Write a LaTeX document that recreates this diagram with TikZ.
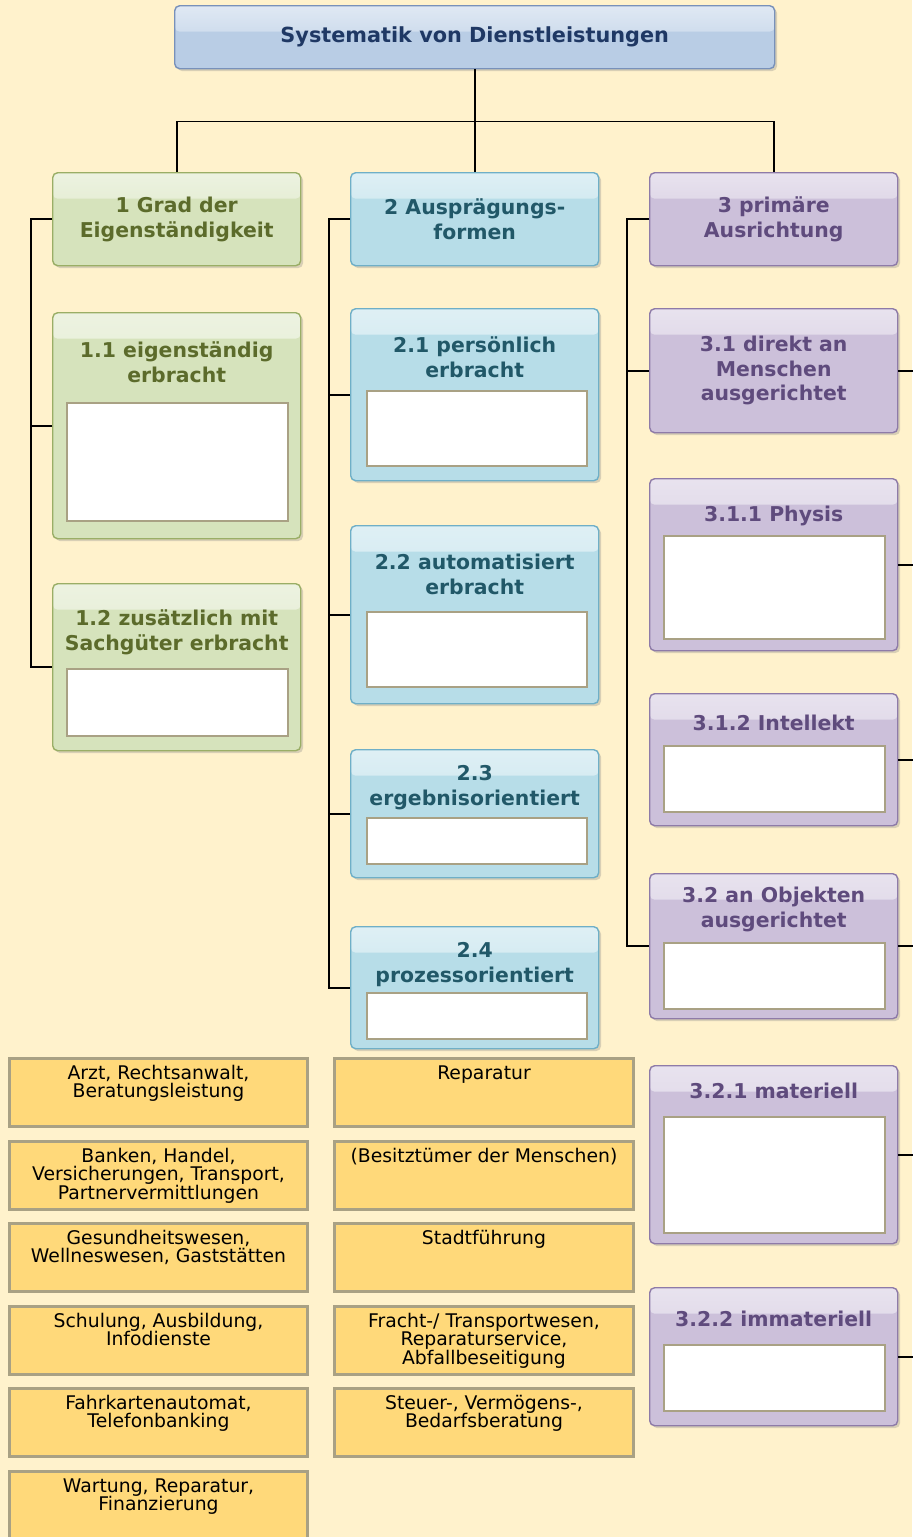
\documentclass[tikz,border=0pt]{standalone}
\usepackage{fontspec}
\setmainfont{DejaVu Sans}
\usetikzlibrary{positioning,shadows}
\definecolor{bgcol}{HTML}{FFF2CC}
\definecolor{rootfill}{HTML}{B9CDE5}\definecolor{rootline}{HTML}{7891BA}\definecolor{roottxt}{HTML}{1F3864}
\definecolor{grnfill}{HTML}{D6E3BC}\definecolor{grnline}{HTML}{9AAE66}\definecolor{grntxt}{HTML}{5C6B2B}
\definecolor{blufill}{HTML}{B7DDE8}\definecolor{bluline}{HTML}{6FAFC7}\definecolor{blutxt}{HTML}{215868}
\definecolor{purfill}{HTML}{CCC0DA}\definecolor{purline}{HTML}{8E7BA8}\definecolor{purtxt}{HTML}{5F4B7D}
\definecolor{yelfill}{HTML}{FFD97A}\definecolor{yelline}{HTML}{A9A184}
\begin{document}
\begin{tikzpicture}[x=0.5pt,y=-0.5pt,
  card/.style={rounded corners=2.5pt, line width=0.7pt, anchor=north west,
    minimum width=124pt, inner sep=0pt, align=center,
    font=\bfseries\fontsize{10.2}{12.3}\selectfont,
    drop shadow={shadow xshift=1.2pt, shadow yshift=-1.2pt, opacity=0.3},
    path picture={\shade[top color=white!55!#1, bottom color=#1]
      (path picture bounding box.north west) rectangle ([yshift=-13pt]path picture bounding box.north east);}},
  grn/.style={card=grnfill, draw=grnline, fill=grnfill, text=grntxt},
  blu/.style={card=blufill, draw=bluline, fill=blufill, text=blutxt},
  pur/.style={card=purfill, draw=purline, fill=purfill, text=purtxt},
  ttl/.style={inner sep=0pt, align=center, font=\bfseries\fontsize{10.2}{12.5}\selectfont},
  slot/.style={draw=yelline, fill=white, line width=0.8pt, anchor=north west, inner sep=0pt},
  ybox/.style={draw=yelline, fill=yelfill, line width=1.5pt, anchor=north west,
    minimum width=149pt, minimum height=34pt, inner sep=0pt},
  ytxt/.style={inner sep=0pt, align=center, font=\fontsize{9.4}{9.1}\selectfont},
  link/.style={line width=0.8pt}]
  \useasboundingbox (0,0) rectangle (912,1537);
  \fill[bgcol] (0,0) rectangle (912,1537);

  % root and main branches
  \node[card=rootfill, draw=rootline, fill=rootfill, text=roottxt, minimum width=300pt,
    minimum height=31.5pt, font=\bfseries\fontsize{10.4}{12}\selectfont] (root) at (174,5) {Systematik von Dienstleistungen};
  \node[grn, minimum height=46.5pt] (c1) at (52,172) {1 Grad der\\Eigenständigkeit};
  \node[blu, minimum height=46.5pt] (c2) at (350,172) {2 Ausprägungs-\\formen};
  \node[pur, minimum height=46.5pt] (c3) at (649,172) {3 primäre\\Ausrichtung};
  \path (root.south) ++(0,52) coordinate (bus);
  \draw[link] (root.south) -- (bus);
  \draw[link] (bus) -| (c1.north);
  \draw[link] (bus) -| (c3.north);
  \draw[link] (bus) -- (c2.north);

  % 1 Grad der Eigenstaendigkeit
  \node[grn, minimum height=113pt] (e11) at (52,312) {};
  \node[ttl, text=grntxt, below=14.5pt of e11.north] {1.1 eigenständig\\erbracht};
  \node[slot, minimum width=110.5pt, minimum height=59pt] at (66,402) {};
  \node[grn, minimum height=83.5pt] (e12) at (52,583) {};
  \node[ttl, text=grntxt, below=13pt of e12.north] {1.2 zusätzlich mit\\Sachgüter erbracht};
  \node[slot, minimum width=110.5pt, minimum height=33.5pt] at (66,668) {};
  \draw[link] (c1.west) -- ++(-21,0) |- (e12.west);
  \draw[link] (e11.west) -- ++(-21,0);

  % 2 Auspraegungsformen
  \node[blu, minimum height=86pt] (b21) at (350,308) {};
  \node[ttl, text=blutxt, below=14pt of b21.north] {2.1 persönlich\\erbracht};
  \node[slot, minimum width=110pt, minimum height=37.5pt] at (366,390) {};
  \node[blu, minimum height=89pt] (b22) at (350,525) {};
  \node[ttl, text=blutxt, below=14.5pt of b22.north] {2.2 automatisiert\\erbracht};
  \node[slot, minimum width=110pt, minimum height=37.5pt] at (366,611) {};
  \node[blu, minimum height=64pt] (b23) at (350,749) {};
  \node[ttl, text=blutxt, below=8pt of b23.north] {2.3\\ergebnisorientiert};
  \node[slot, minimum width=110pt, minimum height=23pt] at (366,817) {};
  \node[blu, minimum height=61pt] (b24) at (350,926) {};
  \node[ttl, text=blutxt, below=8pt of b24.north] {2.4\\prozessorientiert};
  \node[slot, minimum width=110pt, minimum height=23pt] at (366,992) {};
  \draw[link] (c2.west) -- ++(-21,0) |- (b24.west);
  \foreach \n in {b21,b22,b23} \draw[link] (\n.west) -- ++(-21,0);

  % 3 primaere Ausrichtung
  \node[pur, minimum height=62pt] (p31) at (649,308) {3.1 direkt an\\Menschen\\ausgerichtet};
  \node[pur, minimum height=86pt] (p311) at (649,478) {};
  \node[ttl, text=purtxt, below=14pt of p311.north] {3.1.1 Physis};
  \node[slot, minimum width=110.5pt, minimum height=51.5pt] at (663,535) {};
  \node[pur, minimum height=66pt] (p312) at (649,693) {};
  \node[ttl, text=purtxt, below=11pt of p312.north] {3.1.2 Intellekt};
  \node[slot, minimum width=110.5pt, minimum height=33pt] at (663,745) {};
  \node[pur, minimum height=72.5pt] (p32) at (649,873) {};
  \node[ttl, text=purtxt, below=7pt of p32.north] {3.2 an Objekten\\ausgerichtet};
  \node[slot, minimum width=110.5pt, minimum height=33pt] at (663,942) {};
  \node[pur, minimum height=89pt] (p321) at (649,1065) {};
  \node[ttl, text=purtxt, below=9pt of p321.north] {3.2.1 materiell};
  \node[slot, minimum width=110.5pt, minimum height=58pt] at (663,1116) {};
  \node[pur, minimum height=69pt] (p322) at (649,1287) {};
  \node[ttl, text=purtxt, below=12pt of p322.north] {3.2.2 immateriell};
  \node[slot, minimum width=110.5pt, minimum height=33pt] at (663,1344) {};
  \draw[link] (c3.west) -- ++(-22,0) |- (p32.west);
  \draw[link] (p31.west) -- ++(-22,0);
  \foreach \n in {p31,p311,p312,p32,p321,p322} \draw[link] (\n.east) -- ++(16,0);

  % Beispiele
  \node[ybox] (y1) at (8,1057) {};
  \node[ytxt, below=4pt of y1.north] {Arzt, Rechtsanwalt,\\Beratungsleistung};
  \node[ybox] (y2) at (8,1140) {};
  \node[ytxt, below=4pt of y2.north] {Banken, Handel,\\Versicherungen, Transport,\\Partnervermittlungen};
  \node[ybox] (y3) at (8,1222) {};
  \node[ytxt, below=4pt of y3.north] {Gesundheitswesen,\\Wellneswesen, Gaststätten};
  \node[ybox] (y4) at (8,1305) {};
  \node[ytxt, below=4pt of y4.north] {Schulung, Ausbildung,\\Infodienste};
  \node[ybox] (y5) at (8,1387) {};
  \node[ytxt, below=4pt of y5.north] {Fahrkartenautomat,\\Telefonbanking};
  \node[ybox] (y6) at (8,1470) {};
  \node[ytxt, below=4pt of y6.north] {Wartung, Reparatur,\\Finanzierung};
  \node[ybox, minimum width=149.5pt] (z1) at (333,1057) {};
  \node[ytxt, below=4pt of z1.north] {Reparatur};
  \node[ybox, minimum width=149.5pt] (z2) at (333,1140) {};
  \node[ytxt, below=4pt of z2.north] {(Besitztümer der Menschen)};
  \node[ybox, minimum width=149.5pt] (z3) at (333,1222) {};
  \node[ytxt, below=4pt of z3.north] {Stadtführung};
  \node[ybox, minimum width=149.5pt] (z4) at (333,1305) {};
  \node[ytxt, below=4pt of z4.north] {Fracht-/ Transportwesen,\\Reparaturservice,\\Abfallbeseitigung};
  \node[ybox, minimum width=149.5pt] (z5) at (333,1387) {};
  \node[ytxt, below=4pt of z5.north] {Steuer-, Vermögens-,\\Bedarfsberatung};
\end{tikzpicture}
\end{document}
